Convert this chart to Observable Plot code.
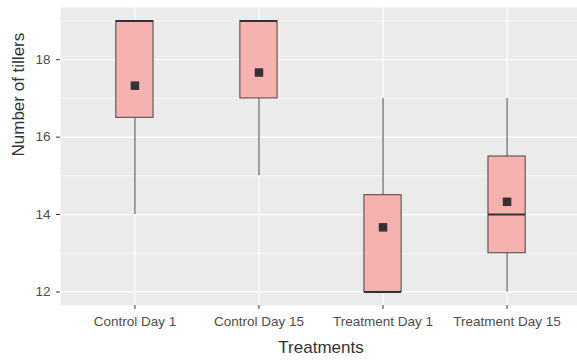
<!DOCTYPE html>
<html><head><meta charset="utf-8">
<script src="https://cdn.jsdelivr.net/npm/d3@7"></script>
<script src="https://cdn.jsdelivr.net/npm/@observablehq/plot@0.6"></script>
<style>
body{margin:0;background:#fff;font-family:"Liberation Sans",Arial,sans-serif}
#chart svg{display:block;font-family:"Liberation Sans",Arial,sans-serif}
</style>
</head><body><div id="chart"></div>
<script>
const categories = ["Control Day 1", "Control Day 15", "Treatment Day 1", "Treatment Day 15"];
const whiskerLow = [14, 15, 12, 12];
const q1 = [16.5, 17, 12, 13];
const median = [19, 19, 12, 14];
const q3 = [19, 19, 14.5, 15.5];
const whiskerHigh = [19, 19, 17, 17];
const means = [17.33, 17.67, 13.67, 14.33];
const yTicks = [12, 14, 16, 18];
const yMinor = [13, 15, 17, 19];
const xTitle = "Treatments";
const yTitle = "Number of tillers";

const data = categories.map((c, k) => ({
  i: k + 1, cat: c, lo: whiskerLow[k], q1: q1[k], med: median[k], q3: q3[k], hi: whiskerHigh[k], mean: means[k]
}));
const hw = 0.15;

const chart = Plot.plot({
  width: 577,
  height: 361,
  marginLeft: 60,
  marginRight: 0,
  marginTop: 7,
  marginBottom: 56,
  style: {background: "#fff", fontFamily: "Liberation Sans, Arial, sans-serif"},
  x: {type: "linear", domain: [0.4, 4.6], range: [60, 581]},
  y: {domain: [11.65, 19.35]},
  marks: [
    Plot.frame({fill: "#EBEBEB", stroke: null}),
    Plot.gridY(yMinor, {stroke: "#fff", strokeOpacity: 1, strokeWidth: 0.6}),
    Plot.gridY(yTicks, {stroke: "#fff", strokeOpacity: 1, strokeWidth: 1.2}),
    Plot.gridX([1, 2, 3, 4], {stroke: "#fff", strokeOpacity: 1, strokeWidth: 1.2}),
    Plot.ruleX(data, {x: "i", y1: "lo", y2: "hi", stroke: "#555", strokeWidth: 1.1}),
    Plot.rect(data, {x1: d => d.i - hw, x2: d => d.i + hw, y1: "q1", y2: "q3", fill: "#F5B2AE", stroke: "#444", strokeWidth: 1}),
    Plot.ruleY(data, {y: "med", x1: d => d.i - hw, x2: d => d.i + hw, stroke: "#333", strokeWidth: 2}),
    Plot.dot(data, {x: "i", y: "mean", symbol: "square", r: 4.8, fill: "#333", stroke: null}),
    Plot.axisY(yTicks, {tickSize: 4, tickPadding: 6, fontSize: 13.5, stroke: "#333", fill: "#4D4D4D", label: null}),
    Plot.axisX([1, 2, 3, 4], {tickFormat: i => categories[i - 1], tickSize: 4, tickPadding: 7.4, fontSize: 13.5, stroke: "#333", fill: "#4D4D4D", label: null}),
    Plot.text([xTitle], {frameAnchor: "bottom", dy: 41.6, dx: 2, lineAnchor: "middle", fontSize: 17, fill: "#333", text: d => d}),
    Plot.text([yTitle], {frameAnchor: "left", dx: -42.4, rotate: -90, lineAnchor: "middle", fontSize: 17, fill: "#333", text: d => d})
  ]
});
document.getElementById("chart").appendChild(chart);
</script>
</body></html>
